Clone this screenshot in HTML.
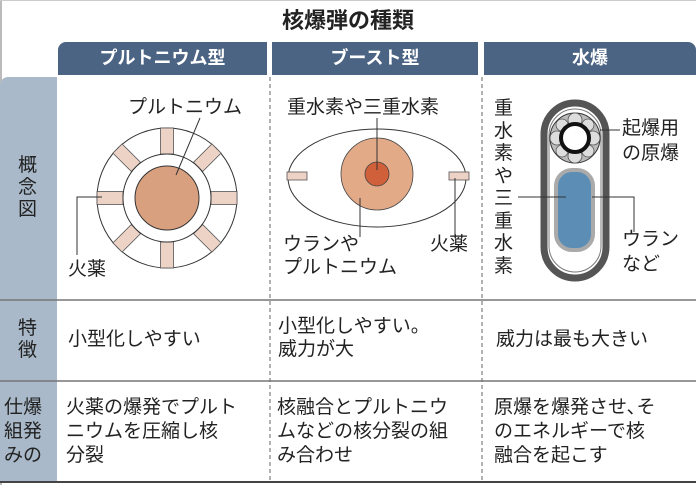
<!DOCTYPE html>
<html><head><meta charset="utf-8"><style>
html,body{margin:0;padding:0;background:#fff;}
body{width:696px;height:485px;position:relative;overflow:hidden;font-family:"Liberation Sans","Noto Sans CJK JP",sans-serif;color:#222;}
.t{position:absolute;font-size:19px;line-height:24px;white-space:nowrap;}
.h{position:absolute;top:42px;height:33px;background:#4c6484;color:#fff;font-weight:bold;font-size:18px;line-height:33px;text-align:center;}
</style></head><body>
<div style="position:absolute;left:0;top:0;width:2px;height:485px;background:#bbb"></div>
<div style="position:absolute;left:0;top:0;width:696px;height:1px;background:#ccc"></div>
<div class="t" style="left:0;width:696px;text-align:center;top:6px;font-size:22px;font-weight:bold;line-height:30px">核爆弾の種類</div>
<div class="h" style="left:58px;width:209px;border-top-left-radius:8px">プルトニウム型</div>
<div class="h" style="left:272px;width:206px">ブースト型</div>
<div class="h" style="left:484px;width:212px;border-top-right-radius:8px">水爆</div>
<div style="position:absolute;left:0;top:77px;width:57px;height:405px;background:#a9b9c9;border-top-left-radius:8px"></div>
<svg width="696" height="485" style="position:absolute;left:0;top:0">
<g stroke="#777" stroke-width="1.5"><line x1="0" y1="300" x2="696" y2="300"/><line x1="0" y1="381" x2="696" y2="381"/></g>
<line x1="0" y1="482" x2="696" y2="482" stroke="#444" stroke-width="2"/>
<g stroke="#666" stroke-width="1" stroke-dasharray="4,3"><line x1="270" y1="77" x2="270" y2="482"/><line x1="482" y1="77" x2="482" y2="482"/></g>
<circle cx="167" cy="198" r="70" fill="#fff" stroke="#333" stroke-width="1"/>
<g fill="#ecd3c6" stroke="#555" stroke-width="0.8">
<g transform="translate(167,198)">
<rect x="-6.5" y="-70" width="13" height="26" transform="rotate(0)"/>
<rect x="-6.5" y="-70" width="13" height="26" transform="rotate(45)"/>
<rect x="-6.5" y="-70" width="13" height="26" transform="rotate(90)"/>
<rect x="-6.5" y="-70" width="13" height="26" transform="rotate(135)"/>
<rect x="-6.5" y="-70" width="13" height="26" transform="rotate(180)"/>
<rect x="-6.5" y="-70" width="13" height="26" transform="rotate(225)"/>
<rect x="-6.5" y="-70" width="13" height="26" transform="rotate(270)"/>
<rect x="-6.5" y="-70" width="13" height="26" transform="rotate(315)"/>
</g></g>
<circle cx="167" cy="198" r="44" fill="#fff" stroke="#333" stroke-width="1"/>
<circle cx="167" cy="198" r="32" fill="#d9a080" stroke="#333" stroke-width="1"/>
<g stroke="#333" stroke-width="1" fill="none">
<line x1="200" y1="118" x2="176" y2="175"/>
<polyline points="102,197 77,197 77,255"/>
</g>
<ellipse cx="377" cy="178" rx="89" ry="49" fill="#fff" stroke="#333" stroke-width="1"/>
<circle cx="377" cy="174" r="36" fill="#e3aa88" stroke="#444" stroke-width="0.8"/>
<circle cx="377" cy="174" r="12" fill="#d0603a" stroke="#444" stroke-width="0.8"/>
<rect x="287" y="172" width="20" height="8" fill="#ecd3c6" stroke="#555" stroke-width="0.8"/>
<rect x="449" y="172" width="20" height="8" fill="#ecd3c6" stroke="#555" stroke-width="0.8"/>
<g stroke="#333" stroke-width="1">
<line x1="377" y1="118" x2="377" y2="170"/>
<line x1="360" y1="198" x2="360" y2="237"/>
<line x1="455" y1="178" x2="455" y2="237"/>
</g>
<rect x="544" y="103" width="62" height="175" rx="31" fill="#fff" stroke="#555" stroke-width="7"/>
<rect x="549" y="109" width="52" height="163" rx="26" fill="none" stroke="#777" stroke-width="1"/>
<circle cx="575" cy="138" r="25" fill="#bbb" stroke="#333" stroke-width="1"/>
<g stroke="#555" stroke-width="0.8" fill="#ddd">
<circle cx="575" cy="120" r="7"/><circle cx="575" cy="156" r="7"/><circle cx="557" cy="138" r="7"/><circle cx="593" cy="138" r="7"/>
<circle cx="562" cy="125" r="6"/><circle cx="588" cy="125" r="6"/><circle cx="562" cy="151" r="6"/><circle cx="588" cy="151" r="6"/>
</g>
<circle cx="575" cy="138" r="14" fill="#fff" stroke="#111" stroke-width="4"/>
<rect x="556" y="170" width="37" height="80" rx="16" fill="#5b8db5" stroke="#aaa" stroke-width="4"/>
<g stroke="#333" stroke-width="1" fill="none">
<line x1="518" y1="197" x2="566" y2="197"/>
<polyline points="592,197 634,197 634,232"/>
<line x1="600" y1="130" x2="620" y2="130"/>
</g>
</svg>
<div class="t" style="left:128px;top:96px">プルトニウム</div>
<div class="t" style="left:68px;top:258px">火薬</div>
<div class="t" style="left:287px;top:96px">重水素や三重水素</div>
<div class="t" style="left:283px;top:233px">ウランや</div>
<div class="t" style="left:283px;top:256px">プルトニウム</div>
<div class="t" style="left:430px;top:233px">火薬</div>
<div class="t" style="left:494px;top:98px;width:20px;white-space:normal;line-height:22.5px;font-size:19px">重水素や三重水素</div>
<div class="t" style="left:622px;top:117px">起爆用</div>
<div class="t" style="left:622px;top:142px">の原爆</div>
<div class="t" style="left:622px;top:228px">ウラン</div>
<div class="t" style="left:622px;top:253px">など</div>
<div class="t" style="left:18px;top:155px;width:20px;white-space:normal;line-height:22px">概念図</div>
<div class="t" style="left:18px;top:318px;width:20px;white-space:normal;line-height:22px">特徴</div>
<div class="t" style="left:4px;top:396px;line-height:24px">仕爆<br>組発<br>みの</div>
<div class="t" style="left:68px;top:328px">小型化しやすい</div>
<div class="t" style="left:278px;top:315px;line-height:23px">小型化しやすい。<br>威力が大</div>
<div class="t" style="left:496px;top:328px">威力は最も大きい</div>
<div class="t" style="left:66px;top:396px;line-height:24px">火薬の爆発でプルト<br>ニウムを圧縮し核<br>分裂</div>
<div class="t" style="left:277px;top:396px;line-height:24px">核融合とプルトニウ<br>ムなどの核分裂の組<br>み合わせ</div>
<div class="t" style="left:494px;top:396px;line-height:24px">原爆を爆発させ､そ<br>のエネルギーで核<br>融合を起こす</div>
</body></html>
